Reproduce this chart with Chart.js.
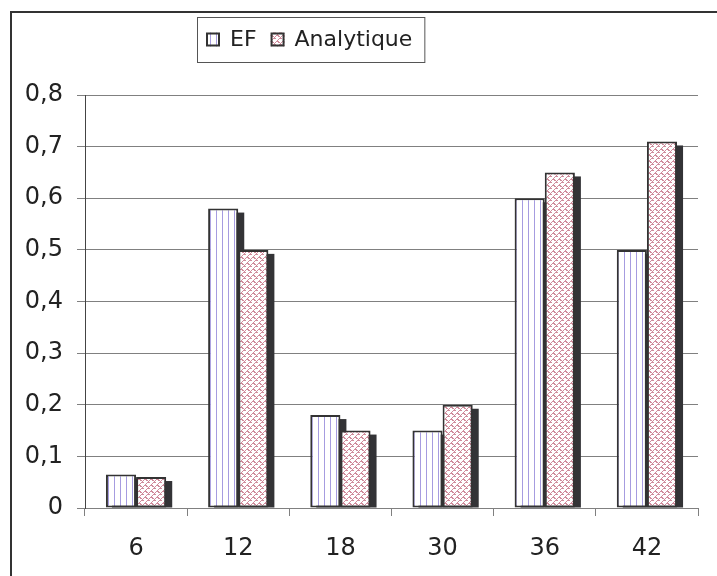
<!DOCTYPE html>
<html>
<head>
<meta charset="utf-8">
<script src="https://cdn.jsdelivr.net/npm/chart.js@4.4.1/dist/chart.umd.min.js"></script>
<style>
  html, body { margin: 0; padding: 0; background: #fff; }
  #wrap { width: 717px; height: 576px; }
</style>
</head>
<body>
<div id="wrap"><canvas id="chart"></canvas></div>
<script>
const categories = ['6', '12', '18', '30', '36', '42'];
const efValues = [0.065, 0.58, 0.18, 0.15, 0.6, 0.5];
const analytiqueValues = [0.06, 0.5, 0.15, 0.2, 0.65, 0.71];
const seriesLabels = ['EF', 'Analytique'];

// small tiled fills like the old Excel patterns
function makePattern(draw, w, h) {
  const c = document.createElement('canvas');
  c.width = w; c.height = h;
  const g = c.getContext('2d');
  g.fillStyle = '#fff';
  g.fillRect(0, 0, w, h);
  draw(g);
  return document.createElement('canvas').getContext('2d').createPattern(c, 'repeat');
}

const efPattern = makePattern(g => {
  g.fillStyle = '#a69ce0';
  g.fillRect(0, 0, 1, 6);
}, 6, 6);

const anaPattern = makePattern(g => {
  g.fillStyle = '#d08c9c';
  // zigzag diagonal hatch
  const px = [[0,5],[1,4],[2,3],[3,2],[4,1],[5,0],[1,5],[2,5],[4,2],[5,2],[2,0],[3,0]];
  px.forEach(p => g.fillRect(p[0], p[1], 1, 1));
}, 6, 6);

const FONT = "'DejaVu Sans', sans-serif";

const shadowPlugin = {
  id: 'barShadow',
  beforeDatasetsDraw(chart) {
    const ctx = chart.ctx;
    const area = chart.chartArea;
    ctx.save();
    ctx.beginPath();
    ctx.rect(area.left, area.top, area.right - area.left + 10, area.bottom - area.top);
    ctx.clip();
    ctx.fillStyle = '#333336';
    chart.data.datasets.forEach((ds, i) => {
      const meta = chart.getDatasetMeta(i);
      meta.data.forEach(el => {
        const p = el.getProps(['x', 'y', 'base', 'width'], true);
        ctx.fillRect(p.x - p.width / 2 + 6, p.y + 4, p.width, p.base - p.y - 4);
      });
    });
    ctx.restore();
  }
};

const frameLegendPlugin = {
  id: 'frameLegend',
  afterDraw(chart) {
    const ctx = chart.ctx;
    ctx.save();
    // outer chart frame
    ctx.strokeStyle = '#333';
    ctx.lineWidth = 2;
    ctx.strokeRect(11, 12, 720, 580);

    // legend box
    ctx.font = '22px ' + FONT;
    ctx.textBaseline = 'middle';
    const fills = [efPattern, anaPattern];
    const left = 197, top = 17, h = 45;
    let x = left + 9;
    const cy = top + h / 2;
    const parts = [];
    chart.data.datasets.forEach((ds, i) => {
      const tw = ctx.measureText(ds.label).width;
      parts.push({ x, tw, label: ds.label, fill: fills[i] });
      x += 14 + 10 + tw + 14;
    });
    const right = x - 14 + 12;
    ctx.fillStyle = '#fff';
    ctx.fillRect(left, top, right - left, h);
    ctx.strokeStyle = '#555';
    ctx.lineWidth = 1;
    ctx.strokeRect(left + 0.5, top + 0.5, right - left, h);
    parts.forEach(p => {
      ctx.fillStyle = p.fill;
      ctx.fillRect(p.x, cy - 7, 14, 14);
      ctx.strokeStyle = '#333';
      ctx.lineWidth = 2;
      ctx.strokeRect(p.x + 1, cy - 6, 12, 12);
      ctx.fillStyle = '#222';
      ctx.fillText(p.label, p.x + 24, cy + 1);
    });
    ctx.restore();
  }
};

new Chart(document.getElementById('chart'), {
  type: 'bar',
  data: {
    labels: categories,
    datasets: [{
      label: seriesLabels[0],
      data: efValues,
      backgroundColor: efPattern,
      borderColor: '#333',
      borderWidth: 2,
      borderSkipped: false
    }, {
      label: seriesLabels[1],
      data: analytiqueValues,
      backgroundColor: anaPattern,
      borderColor: '#333',
      borderWidth: 2,
      borderSkipped: false
    }]
  },
  options: {
    responsive: true,
    maintainAspectRatio: false,
    animation: false,
    events: [],
    categoryPercentage: 0.59,
    barPercentage: 1,
    layout: { padding: { left: 10, right: 19, top: 95, bottom: 0 } },
    plugins: {
      legend: { display: false },
      tooltip: { enabled: false }
    },
    scales: {
      x: {
        grid: { drawOnChartArea: false, color: '#808080', tickLength: 8, offset: true },
        border: { color: '#808080' },
        ticks: { color: '#222', font: { family: FONT, size: 24 }, padding: 18 },
        afterFit(s) { s.height = 68; }
      },
      y: {
        min: 0,
        max: 0.8,
        grid: { color: '#808080', tickLength: 8 },
        border: { color: '#444' },
        ticks: {
          stepSize: 0.1,
          color: '#222',
          padding: 14,
          font: { family: FONT, size: 24 },
          callback: v => (Math.round(v * 10) / 10).toString().replace('.', ',')
        },
        afterFit(s) { s.width = 75; }
      }
    }
  },
  plugins: [shadowPlugin, frameLegendPlugin]
});
</script>
</body>
</html>
